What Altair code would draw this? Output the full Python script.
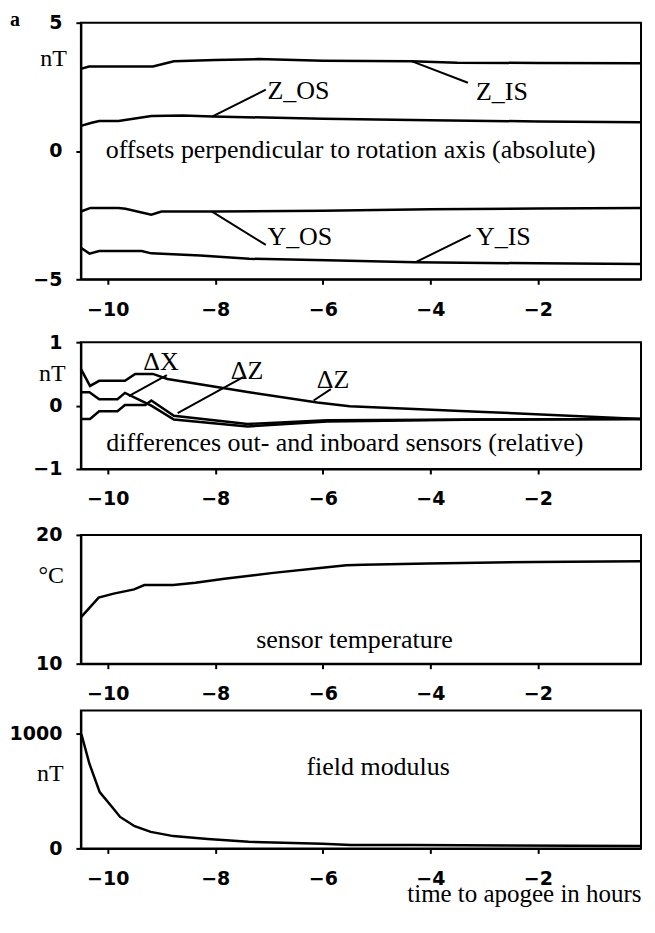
import altair as alt
import pandas as pd

# ---------------- data ----------------
X_DOMAIN = [-10.5, -0.08]
X_TICKS = [-10, -8, -6, -4, -2]

# panel a1: offsets perpendicular to rotation axis (nT)
zis_t = [-10.5, -10.35, -9.8, -9.16, -8.77, -8.0, -7.2, -6.0, -4.35, -3.5, -2.0, -0.08]
zis_v = [3.2, 3.29, 3.29, 3.29, 3.5, 3.55, 3.58, 3.52, 3.5, 3.44, 3.43, 3.42]
zos_t = [-10.5, -10.3, -10.16, -9.8, -9.19, -8.6, -8.05, -6.0, -4.0, -2.0, -0.08]
zos_v = [0.98, 1.1, 1.17, 1.17, 1.36, 1.38, 1.34, 1.26, 1.2, 1.15, 1.12]
yos_t = [-10.5, -10.32, -9.8, -9.67, -9.19, -9.0, -8.0, -6.0, -4.0, -2.0, -0.08]
yos_v = [-2.36, -2.22, -2.22, -2.25, -2.48, -2.36, -2.36, -2.33, -2.27, -2.24, -2.22]
yis_t = [-10.5, -10.34, -10.16, -9.37, -9.19, -8.28, -7.37, -5.92, -4.28, -2.0, -0.08]
yis_v = [-3.77, -4.0, -3.9, -3.9, -3.99, -4.07, -4.2, -4.26, -4.34, -4.38, -4.4]

p1_labels = ["Z_OS", "Z_IS", "Y_OS", "Y_IS"]
p1_label_x = [-7.03, -3.15, -7.03, -3.15]
p1_label_y = [2.35, 2.3, -3.35, -3.35]
p1_lead_x1 = [-8.06, -4.35, -8.06, -4.28]
p1_lead_y1 = [1.34, 3.5, -2.36, -4.34]
p1_lead_x2 = [-7.06, -3.3, -7.06, -3.25]
p1_lead_y2 = [2.39, 2.66, -3.66, -3.28]

# panel a2: differences out- and inboard sensors (nT)
dA_t = [-10.5, -10.33, -10.16, -9.68, -9.49, -9.16, -8.89, -7.37, -6.1, -5.5, -3.0, -0.08]
dA_v = [0.58, 0.31, 0.39, 0.39, 0.5, 0.5, 0.42, 0.21, 0.05, -0.01, -0.1, -0.21]
dB_t = [-10.5, -10.34, -10.16, -9.82, -9.68, -9.19, -8.77, -7.4, -5.92, -3.0, -0.08]
dB_v = [0.21, 0.21, 0.1, 0.1, 0.2, 0.0, -0.22, -0.33, -0.25, -0.22, -0.21]
dC_t = [-10.5, -10.33, -10.16, -9.82, -9.68, -9.3, -9.19, -8.77, -7.4, -5.92, -3.0, -0.08]
dC_v = [-0.21, -0.21, -0.09, -0.09, 0.01, 0.01, 0.08, -0.16, -0.29, -0.23, -0.22, -0.21]

p2_labels = ["ΔX", "ΔZ", "ΔZ"]
p2_label_x = [-9.01, -7.41, -5.81]
p2_label_y = [0.69, 0.55, 0.40]
p2_lead_x1 = [-9.61, -8.7, -6.17]
p2_lead_y1 = [0.15, -0.12, 0.08]
p2_lead_x2 = [-8.9, -7.48, -5.85]
p2_lead_y2 = [0.48, 0.45, 0.26]

# panel a3: sensor temperature (deg C)
temp_t = [-10.5, -10.17, -9.89, -9.51, -9.32, -8.78, -8.37, -7.83, -6.92, -6.01, -5.56, -5.25, -4.04, -2.06, -0.08]
temp_v = [13.6, 15.13, 15.44, 15.77, 16.1, 16.1, 16.28, 16.59, 17.05, 17.44, 17.64, 17.69, 17.77, 17.9, 17.95]

# panel a4: field modulus (nT)
field_t = [-10.49, -10.34, -10.15, -9.92, -9.77, -9.5, -9.2, -8.78, -8.14, -7.38, -6.01, -5.48, -4.34, -0.08]
field_v = [994, 735, 490, 360, 274, 193, 144, 107, 81, 58, 40, 29, 29, 20]

SERIF = "Liberation Serif"
SANS = "DejaVu Sans"
LABEL_EXPR = "datum.value < 0 ? '\u2212' + format(-datum.value, 'd') : format(datum.value, 'd')"
W = 561


def xenc(field, title=None):
    ax = dict(values=X_TICKS, title=title, labelExpr=LABEL_EXPR, labelOverlap=False)
    if title:
        ax.update(titleFont=SERIF, titleFontSize=25, titleFontWeight="normal",
                  titleAnchor="end", titlePadding=-7, titleColor="black")
    return alt.X(f"{field}:Q", scale=alt.Scale(domain=X_DOMAIN, nice=False, zero=False),
                 axis=alt.Axis(**ax))


def yenc(field, domain, ticks):
    return alt.Y(f"{field}:Q", scale=alt.Scale(domain=domain, nice=False, zero=False),
                 axis=alt.Axis(values=ticks, title=None, labelExpr=LABEL_EXPR,
                               labelOverlap=False))


def panel(series, domain, ticks, height, desc, unit, spacer,
          labels=None, label_align="left", leaders=None, xtitle=None, extra=None):
    rows = []
    for name, ts, vs in series:
        for t, v in zip(ts, vs):
            rows.append({"s": name, "t": t, "v": v})
    df = pd.DataFrame(rows)
    layers = [
        alt.Chart(df).mark_line(color="black", strokeWidth=2.5).encode(
            x=xenc("t", xtitle), y=yenc("v", domain, ticks), detail="s:N")
    ]
    if leaders is not None:
        ldf = pd.DataFrame(dict(x1=leaders[0], y1=leaders[1], x2=leaders[2], y2=leaders[3]))
        layers.append(alt.Chart(ldf).mark_rule(color="black", strokeWidth=2).encode(
            x=xenc("x1", xtitle), y=yenc("y1", domain, ticks), x2="x2:Q", y2="y2:Q"))
    if labels is not None:
        tdf = pd.DataFrame(dict(label=labels[0], x=labels[1], y=labels[2]))
        layers.append(alt.Chart(tdf).mark_text(font=SERIF, fontSize=26, align=label_align,
                                               baseline="middle", color="black").encode(
            x=xenc("x", xtitle), y=yenc("y", domain, ticks), text="label:N"))
    ddf = pd.DataFrame(dict(label=[desc[0]], x=[desc[1]], y=[desc[2]]))
    layers.append(alt.Chart(ddf).mark_text(font=SERIF, fontSize=26, align="center",
                                           baseline="middle", color="black").encode(
        x=xenc("x", xtitle), y=yenc("y", domain, ticks), text="label:N"))
    udf = pd.DataFrame(dict(label=[unit[0]], x=[unit[1]], y=[unit[2]]))
    layers.append(alt.Chart(udf).mark_text(font=SERIF, fontSize=24, align="center",
                                           baseline="middle", color="black").encode(
        x=xenc("x", xtitle), y=yenc("y", domain, ticks), text="label:N"))
    if extra is not None:
        edf = pd.DataFrame(dict(label=[extra[0]], x=[extra[1]], y=[extra[2]]))
        layers.append(alt.Chart(edf).mark_text(font=SERIF, fontSize=20, fontWeight="bold",
                                               align="left", baseline="alphabetic",
                                               color="black").encode(
            x=xenc("x", xtitle), y=yenc("y", domain, ticks), text="label:N"))
    if spacer > 0:
        # invisible spacer fixing the gap above the panel
        sdf = pd.DataFrame(dict(label=["."]))
        layers.append(alt.Chart(sdf).mark_text(opacity=0, fontSize=2, baseline="top").encode(
            x=alt.value(300), y=alt.value(-spacer), text="label:N"))
    return alt.layer(*layers).properties(width=W, height=height)


p1 = panel([("Z_IS", zis_t, zis_v), ("Z_OS", zos_t, zos_v),
            ("Y_OS", yos_t, yos_v), ("Y_IS", yis_t, yis_v)],
           [-5, 5], [-5, 0, 5], 257,
           ("offsets perpendicular to rotation axis (absolute)", -5.48, 0.05),
           ("nT", -11.01, 3.6), 0,
           labels=(p1_labels, p1_label_x, p1_label_y), label_align="left",
           leaders=(p1_lead_x1, p1_lead_y1, p1_lead_x2, p1_lead_y2),
           extra=("a", -11.82, 4.88))

p2 = panel([("A", dA_t, dA_v), ("B", dB_t, dB_v), ("C", dC_t, dC_v)],
           [-1, 1], [-1, 0, 1], 127,
           ("differences out- and inboard sensors (relative)", -5.59, -0.59),
           ("nT", -11.03, 0.5), 21,
           labels=(p2_labels, p2_label_x, p2_label_y), label_align="center",
           leaders=(p2_lead_x1, p2_lead_y1, p2_lead_x2, p2_lead_y2))

p3 = panel([("T", temp_t, temp_v)], [10, 20], [10, 20], 129,
           ("sensor temperature", -5.41, 11.85), ("°C", -11.05, 16.8), 24)

p4 = panel([("B", field_t, field_v)], [0, 1200], [0, 1000], 138,
           ("field modulus", -4.97, 707), ("nT", -11.07, 647), 5,
           xtitle="time to apogee in hours")

chart = alt.vconcat(p1, p2, p3, p4, spacing=0).properties(
    padding=0,
    autosize=alt.AutoSizeParams(type="pad"),
    background="white"
).configure_axis(
    domainColor="black", domainWidth=2, tickColor="black", tickWidth=2, tickSize=5,
    labelFont=SANS, labelFontSize=19, labelFontWeight="bold", labelColor="black", grid=False
).configure_axisY(labelPadding=14).configure_axisX(labelPadding=16).configure_view(
    stroke="black", strokeWidth=2
)

chart.save("out.html", embed_options={"renderer": "svg", "actions": False})
